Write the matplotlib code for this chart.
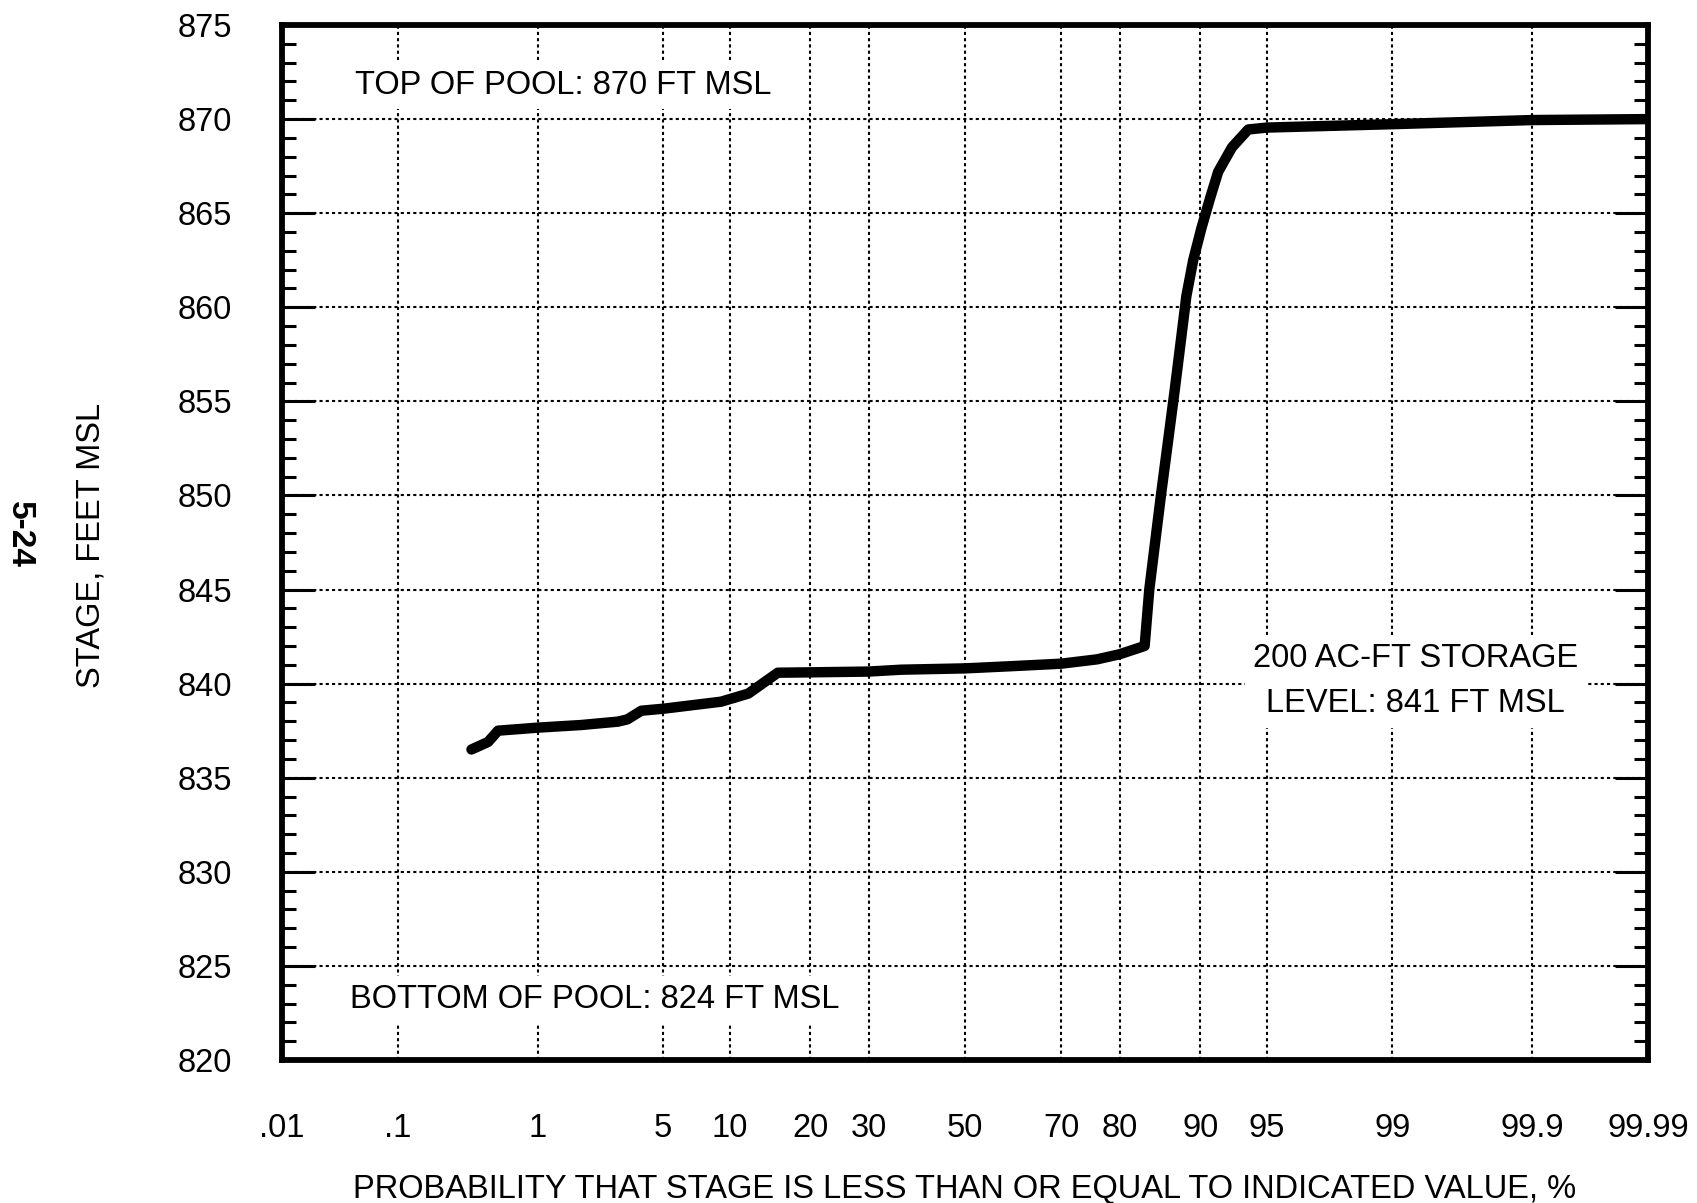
import numpy as np
import matplotlib
matplotlib.use("Agg")
import matplotlib.pyplot as plt
from statistics import NormalDist

plt.rcParams['font.family'] = ['Liberation Sans', 'DejaVu Sans']

# data (probability %, stage ft)
prob = [0.36, 0.47, 0.55, 1.0, 1.83, 2.94, 3.3, 3.9, 5.06, 9.2, 11.9, 15.4,
        20.1, 29.9, 36.4, 50, 60.3, 70, 76.4, 80, 83.6, 84.22, 85.7,
        87.3, 87.9, 88.6, 89.3, 90.1, 90.9, 91.6, 92.7, 93.85, 95, 99, 99.9,
        99.99]
stage = [836.5, 836.9, 837.5, 837.66, 837.8, 837.98, 838.1, 838.56, 838.67,
         839.04, 839.47, 840.58, 840.6, 840.64, 840.74, 840.81, 840.93, 841.06,
         841.29, 841.56, 842.0, 845.0, 850.0, 855.5, 857.8, 860.6, 862.5,
         864.2, 865.8, 867.2, 868.5, 869.45, 869.55, 869.73, 869.95, 870.0]

xticks = [0.01, 0.1, 1, 5, 10, 20, 30, 50, 70, 80, 90, 95, 99, 99.9, 99.99]
xlabels = ['.01', '.1', '1', '5', '10', '20', '30', '50', '70', '80', '90',
           '95', '99', '99.9', '99.99']

nd = NormalDist()


# normal probability scale
def fwd(p):
    p = np.clip(np.asarray(p, dtype=float), 1e-7, 100 - 1e-7)
    return np.array([nd.inv_cdf(v / 100.0) for v in p.ravel()]).reshape(p.shape)


def inv(z):
    z = np.asarray(z, dtype=float)
    return np.array([nd.cdf(v) * 100.0 for v in z.ravel()]).reshape(z.shape)


FS = 23.5

fig = plt.figure(figsize=(16.97, 12.03), dpi=100)
ax = fig.add_axes([0.1662, 0.1189, 0.8049, 0.8603])
ax.set_xscale('function', functions=(fwd, inv))

ax.plot(prob, stage, color='black', lw=7.5, solid_capstyle='round',
        solid_joinstyle='round', zorder=4)

ax.set_xlim(0.01, 99.99)
ax.set_ylim(820, 875)
ax.set_xticks(xticks)
ax.set_xticklabels(xlabels)
ax.xaxis.set_minor_locator(matplotlib.ticker.NullLocator())
ax.set_yticks(np.arange(820, 876, 5))
ax.set_yticks(np.arange(820, 876, 1), minor=True)

ax.tick_params(axis='x', which='both', length=0, pad=38, labelsize=FS)
ax.tick_params(axis='y', which='major', direction='in', length=24, width=2.2,
               left=True, right=True, pad=36, labelsize=FS)
ax.tick_params(axis='y', which='minor', direction='in', length=10, width=2.2,
               left=True, right=True)

ax.grid(True, which='major', color='black', linestyle=(0, (1.5, 1.5)),
        linewidth=1.5, zorder=1)
ax.set_axisbelow(True)

for s in ax.spines.values():
    s.set_linewidth(4.2)

ax.set_ylabel('STAGE, FEET MSL', fontsize=FS)
ax.yaxis.set_label_coords(-0.1285, 0.497)
ax.set_xlabel('PROBABILITY THAT STAGE IS LESS THAN OR EQUAL TO INDICATED VALUE, %',
              fontsize=FS, labelpad=22)

box = dict(facecolor='white', edgecolor='none', pad=6)
ax.text(0.0534, 0.942, 'TOP OF POOL: 870 FT MSL', transform=ax.transAxes,
        fontsize=FS, ha='left', va='center', bbox=box, zorder=3)
ax.text(0.0498, 0.058, 'BOTTOM OF POOL: 824 FT MSL', transform=ax.transAxes,
        fontsize=FS, ha='left', va='center', bbox=box, zorder=3)
ax.text(0.830, 0.366, '200 AC-FT STORAGE\nLEVEL: 841 FT MSL',
        transform=ax.transAxes, fontsize=FS, ha='center', va='center',
        linespacing=1.58, bbox=box, zorder=3)

fig.text(0.0112, 0.556, '5-24', rotation=270, fontsize=24, fontweight='bold',
         ha='center', va='center')

fig.savefig('out.png', dpi=100)
